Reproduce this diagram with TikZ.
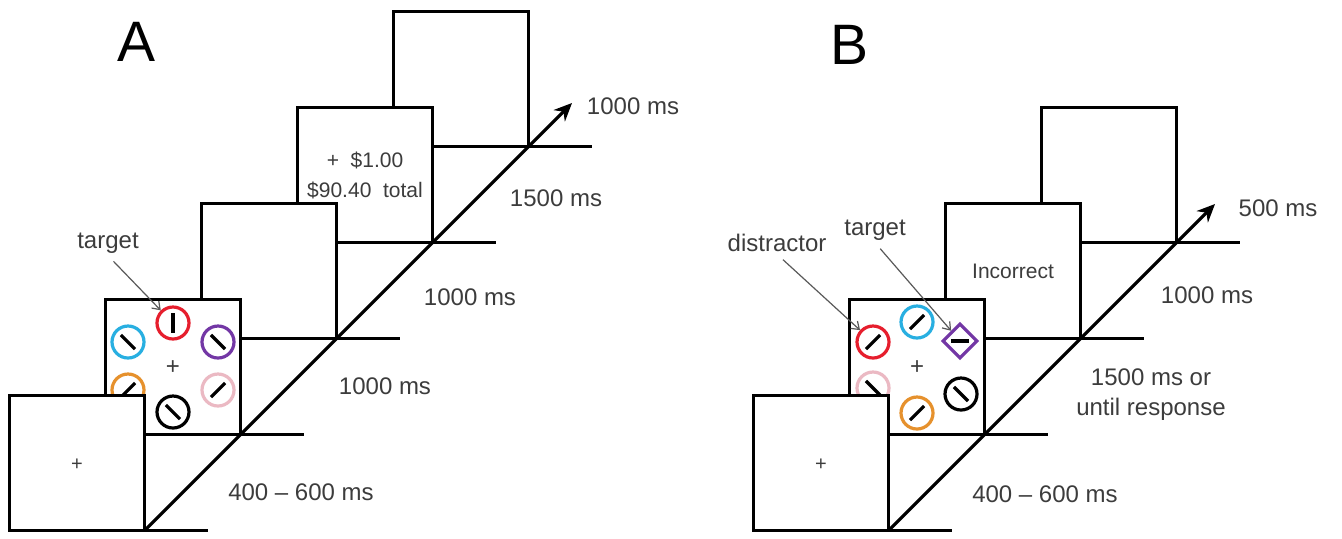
\documentclass[tikz,border=0pt]{standalone}
\usepackage{fontspec}
\setmainfont{Liberation Sans}
\usetikzlibrary{arrows.meta,shapes.geometric}

\definecolor{ringred}{RGB}{230,30,45}
\definecolor{ringcyan}{RGB}{40,175,225}
\definecolor{ringpurple}{RGB}{115,55,165}
\definecolor{ringorange}{RGB}{230,145,45}
\definecolor{ringpink}{RGB}{235,185,195}
\definecolor{labelgray}{RGB}{60,60,60}

\tikzstyle{screen}=[draw,fill=white,line width=1.8pt,minimum width=67.5pt,minimum height=67.5pt,inner sep=0pt,outer sep=0pt,text=labelgray,font=\fontsize{10.5}{15}\selectfont,align=center]
\tikzstyle{groundline}=[line width=1.8pt]
\tikzstyle{timeline}=[line width=1.6pt,-{Stealth[length=9pt,width=8pt]}]
\tikzstyle{ring}=[circle,line width=1.6pt,minimum size=16pt,inner sep=0pt]
\tikzstyle{rhomb}=[diamond,line width=1.6pt,minimum size=17.5pt,inner sep=0pt]
\tikzstyle{bar}=[line width=1.6pt]
\tikzstyle{pointer}=[draw=black!65,line width=0.6pt,shorten <=4pt,-{Straight Barb[length=3.5pt,width=5pt]}]
\tikzstyle{lbl}=[text=labelgray,font=\fontsize{12}{15}\selectfont,inner sep=1pt,align=center]
\tikzstyle{fix}=[text=labelgray,inner sep=0pt]
\tikzstyle{panel}=[font=\fontsize{28.5}{30}\selectfont]

\begin{document}
\begin{tikzpicture}[x=0.5pt,y=-0.5pt]
                    \useasboundingbox (0,0) rectangle (1342,538);

                    % panel A
                    \node (pA) at (137,42) [panel] {A};

                    \node (fA5) at (461,79) [screen] {};
                    \draw [groundline] (fA5.south east) -- ++(63,0);
                    \node (fA4) at (365,175) [screen] {+\ \ \$1.00\\\$90.40\ \ total};
                    \draw [groundline] (fA4.south east) -- ++(63,0);
                    \node (fA3) at (269,271) [screen] {};
                    \draw [groundline] (fA3.south east) -- ++(63,0);
                    \node (fA2) at (173,367) [screen] {};
                    \draw [groundline] (fA2.south east) -- ++(63,0);

                    \node (xA2) at (173,368) [fix,font=\fontsize{12}{12}\selectfont] {+};
                    \node (redA) at (173,323) [ring,draw=ringred] {};
                    \node (cyanA) at (128,342) [ring,draw=ringcyan] {};
                    \node (purpleA) at (218,342) [ring,draw=ringpurple] {};
                    \node (orangeA) at (128,390) [ring,draw=ringorange] {};
                    \node (pinkA) at (218,390) [ring,draw=ringpink] {};
                    \node (blackA) at (173,412) [ring,draw=black] {};
                    \draw [bar] (redA.center) ++(90:5pt) -- ++(270:10pt);
                    \draw [bar] (cyanA.center) ++(135:5pt) -- ++(-45:10pt);
                    \draw [bar] (purpleA.center) ++(135:5pt) -- ++(-45:10pt);
                    \draw [bar] (orangeA.center) ++(45:5pt) -- ++(225:10pt);
                    \draw [bar] (pinkA.center) ++(45:5pt) -- ++(225:10pt);
                    \draw [bar] (blackA.center) ++(135:5pt) -- ++(-45:10pt);

                    \node (fA1) at (77,463) [screen] {};
                    \draw [groundline] (fA1.south east) -- ++(63,0);
                    \node (xA1) at (77,465) [fix,font=\fontsize{10}{10}\selectfont] {+};

                    \coordinate (endA) at (572,103);
                    \draw [timeline] (fA1.south east) -- (endA);

                    \node (tgtA) at (108,243) [lbl] {target};
                    \draw [pointer] (tgtA.south) -- (redA);

                    \node (tA5) at (633,106) [lbl] {1000 ms};
                    \node (tA4) at (556,198) [lbl] {1500 ms};
                    \node (tA3) at (470,297) [lbl] {1000 ms};
                    \node (tA2) at (385,386) [lbl] {1000 ms};
                    \node (tA1) at (301,492) [lbl] {400 -- 600 ms};

                    % panel B
                    \node (pB) at (849,45) [panel] {B};

                    \node (fB4) at (1109,175) [screen] {};
                    \draw [groundline] (fB4.south east) -- ++(63,0);
                    \node (fB3) at (1013,271) [screen] {Incorrect};
                    \draw [groundline] (fB3.south east) -- ++(63,0);
                    \node (fB2) at (917,367) [screen] {};
                    \draw [groundline] (fB2.south east) -- ++(63,0);

                    \node (xB2) at (917,368) [fix,font=\fontsize{12}{12}\selectfont] {+};
                    \node (cyanB) at (917,322) [ring,draw=ringcyan] {};
                    \node (redB) at (873,342) [ring,draw=ringred] {};
                    \node (purpleB) at (960,341) [rhomb,draw=ringpurple] {};
                    \node (pinkB) at (873,388) [ring,draw=ringpink] {};
                    \node (blackB) at (961,394) [ring,draw=black] {};
                    \node (orangeB) at (917,413) [ring,draw=ringorange] {};
                    \draw [bar] (cyanB.center) ++(45:5pt) -- ++(225:10pt);
                    \draw [bar] (redB.center) ++(45:5pt) -- ++(225:10pt);
                    \draw [bar] (purpleB.center) ++(0:4.5pt) -- ++(180:9pt);
                    \draw [bar] (pinkB.center) ++(135:5pt) -- ++(-45:10pt);
                    \draw [bar] (blackB.center) ++(135:5pt) -- ++(-45:10pt);
                    \draw [bar] (orangeB.center) ++(45:5pt) -- ++(225:10pt);

                    \node (fB1) at (821,463) [screen] {};
                    \draw [groundline] (fB1.south east) -- ++(63,0);
                    \node (xB1) at (821,465) [fix,font=\fontsize{10}{10}\selectfont] {+};

                    \coordinate (endB) at (1215,204);
                    \draw [timeline] (fB1.south east) -- (endB);

                    \node (distB) at (777,243) [lbl] {distractor};
                    \node (tgtB) at (875,230) [lbl] {target};
                    \draw [pointer] (distB.south) -- (redB);
                    \draw [pointer] (tgtB.south) -- (purpleB);

                    \node (tB4) at (1278,208) [lbl] {500 ms};
                    \node (tB3) at (1207,295) [lbl] {1000 ms};
                    \node (tB2) at (1151,395) [lbl] {1500 ms or\\until response};
                    \node (tB1) at (1045,494) [lbl] {400 -- 600 ms};
                \end{tikzpicture}
\end{document}
